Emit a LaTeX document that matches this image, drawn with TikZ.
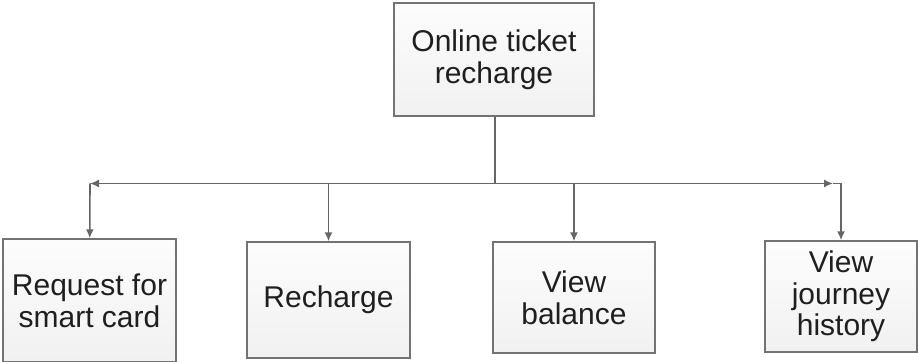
\documentclass[tikz,border=0pt]{standalone}
\usepackage{fontspec}
\setmainfont{Liberation Sans}
\usetikzlibrary{arrows.meta}
\tikzstyle{fbox}=[draw=gray!90!black,line width=0.7pt,top color=gray!2,bottom color=gray!11,align=center,inner sep=0pt,text=black!88,font=\fontsize{15}{15.8}\selectfont]
\tikzstyle{link}=[draw=gray!80!black,line width=0.8pt]
\tikzstyle{tip}=[-{Latex[length=4.5pt,width=4pt]}]

\begin{document}
\begin{tikzpicture}[x=0.5pt,y=0.5pt]
  \useasboundingbox (0,0) rectangle (918,-362);
  \node [fbox,minimum width=100pt,minimum height=56.5pt] (a1) at (494,-59.5) {Online ticket\\recharge};
  \node [fbox,minimum width=86.5pt,minimum height=61.5pt] (b1) at (89.5,-300.5) {Request for\\smart card};
  \node [fbox,minimum width=81.5pt,minimum height=58pt] (b2) at (328.5,-300) {Recharge};
  \node [fbox,minimum width=81pt,minimum height=55.5pt] (b3) at (574,-297.5) {View\\balance};
  \node [fbox,minimum width=76pt,minimum height=55.5pt] (b4) at (841,-296.5) {View\\journey\\history};
  \coordinate (bus) at (495,-183.5);
  \coordinate (lc) at (90,-183.5);
  \coordinate (rt) at (833,-183.5);
  \coordinate (rc) at (841,-183.5);
  \draw [link] (a1.south -| bus) -- (bus);
  \draw [link,tip] (bus) -- (lc);
  \draw [link,tip] (bus) -- (rt);
  \draw [link] (rt) -- (rc);
  \draw [link,tip] (lc) -- (b1);
  \draw [link,tip] (b2 |- bus) -- (b2);
  \draw [link,tip] (b3 |- bus) -- (b3);
  \draw [link,tip] (rc) -- (b4);
\end{tikzpicture}
\end{document}
